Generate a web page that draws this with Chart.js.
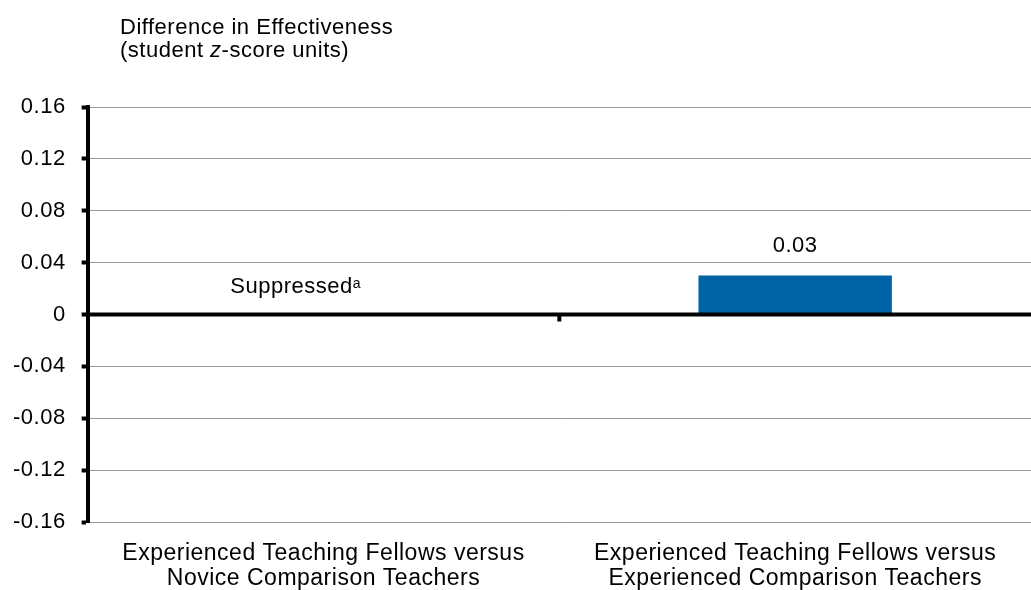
<!DOCTYPE html>
<html>
<head>
<meta charset="utf-8">
<script src="https://cdn.jsdelivr.net/npm/chart.js@4/dist/chart.umd.min.js"></script>
<style>
  html, body { margin: 0; padding: 0; background: #fff; }
  #wrap { position: relative; width: 1031px; height: 590px; }
</style>
</head>
<body>
<div id="wrap"><canvas id="chart"></canvas></div>
<script>
const categories = [
    ['Experienced Teaching Fellows versus', 'Novice Comparison Teachers'],
    ['Experienced Teaching Fellows versus', 'Experienced Comparison Teachers']
];
const differences = [null, 0.03];
const barLabels = ['Suppressed', '0.03'];
const titleLines = ['Difference in Effectiveness', '(student z-score units)'];

const FONT = '"Liberation Sans", Arial, sans-serif';

// the original text is set a touch wider than plain Arial
const spacing = {
    id: 'spacing',
    beforeLayout(chart) { chart.ctx.letterSpacing = '0.5px'; },
    beforeDraw(chart) { chart.ctx.letterSpacing = '0.5px'; }
};

// title, zero line, middle tick and the value labels
const extras = {
    id: 'extras',
    afterDatasetsDraw(chart) {
        const ctx = chart.ctx;
        const x = chart.scales.x;
        const y = chart.scales.y;
        const zero = y.getPixelForValue(0);
        ctx.save();

        ctx.fillStyle = '#000';
        ctx.fillRect(chart.chartArea.left - 2, zero - 2, chart.chartArea.right - chart.chartArea.left + 2, 4);
        const mid = (x.getPixelForValue(0) + x.getPixelForValue(1)) / 2;
        ctx.fillRect(mid - 2, zero, 4, 7);

        ctx.font = '22px ' + FONT;
        ctx.textBaseline = 'middle';
        ctx.textAlign = 'left';
        ctx.fillText(titleLines[0], 120, 28);
        const before = '(student ';
        ctx.fillText(before, 120, 51);
        let off = ctx.measureText(before).width;
        ctx.font = 'italic 22px ' + FONT;
        ctx.fillText('z', 120 + off, 51);
        off += ctx.measureText('z').width;
        ctx.font = '22px ' + FONT;
        ctx.fillText('-score units)', 120 + off, 51);

        // suppressed note
        const sx = x.getPixelForValue(0) - 32;
        const sy = y.getPixelForValue(0.021);
        ctx.textAlign = 'center';
        ctx.fillText(barLabels[0], sx, sy);
        const w = ctx.measureText(barLabels[0]).width;
        ctx.font = '14px ' + FONT;
        ctx.textAlign = 'left';
        ctx.fillText('a', sx + w / 2, sy - 3);

        ctx.font = '22px ' + FONT;
        ctx.textAlign = 'center';
        ctx.fillText(barLabels[1], x.getPixelForValue(1), y.getPixelForValue(differences[1]) - 30);
        ctx.restore();
    }
};

new Chart(document.getElementById('chart'), {
    type: 'bar',
    data: {
        labels: categories,
        datasets: [{
            data: differences,
            backgroundColor: '#0063A6',
            barPercentage: 0.41,
            categoryPercentage: 1
        }]
    },
    options: {
        responsive: true,
        maintainAspectRatio: false,
        animation: false,
        layout: { padding: { top: 107, left: -3, right: 0, bottom: 0 } },
        plugins: {
            legend: { display: false },
            tooltip: { enabled: false }
        },
        scales: {
            x: {
                grid: { display: false },
                border: { display: false },
                afterFit: scale => { scale.height = 68; },
                ticks: {
                    color: '#000',
                    font: { family: FONT, size: 23, lineHeight: 1.05 },
                    padding: 12,
                    maxRotation: 0
                }
            },
            y: {
                min: -0.16,
                max: 0.16,
                z: 1,
                border: { display: true, color: '#000', width: 4 },
                grid: {
                    color: ctx => ctx.tick && ctx.tick.value === 0 ? 'rgba(0,0,0,0)' : '#999',
                    lineWidth: 1,
                    drawTicks: true,
                    tickColor: '#000',
                    tickWidth: 4,
                    tickLength: 6
                },
                ticks: {
                    stepSize: 0.04,
                    color: '#000',
                    padding: 16,
                    font: { family: FONT, size: 22 },
                    callback: v => {
                        const r = Math.round(v * 100) / 100;
                        return r === 0 ? '0' : r.toFixed(2);
                    }
                }
            }
        }
    },
    plugins: [spacing, extras]
});
</script>
</body>
</html>
